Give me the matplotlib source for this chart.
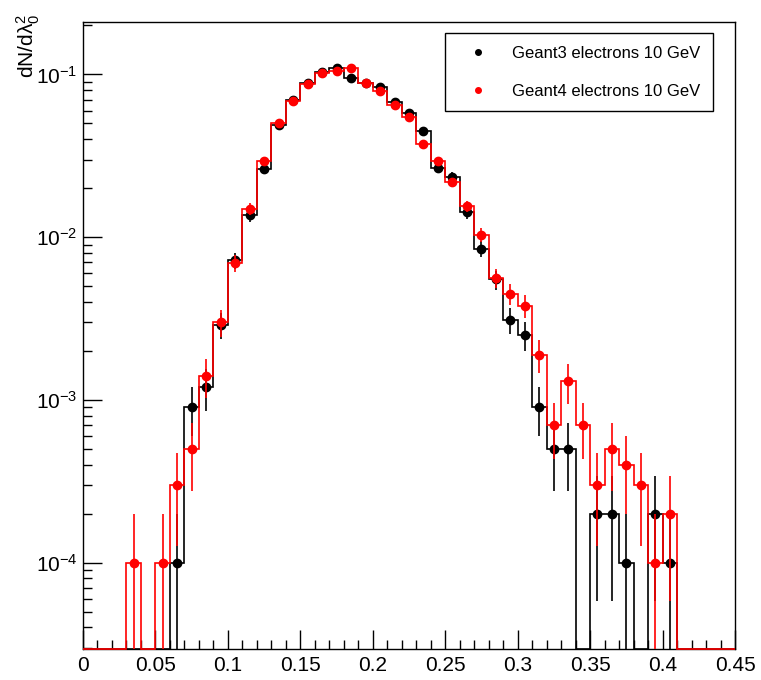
import numpy as np
import matplotlib
matplotlib.use("Agg")
import matplotlib.pyplot as plt
from matplotlib.lines import Line2D
from matplotlib.ticker import MultipleLocator, LogLocator, LogFormatterSciNotation, NullFormatter, FuncFormatter

plt.rcParams['font.family'] = ['Liberation Sans', 'DejaVu Sans']
plt.rcParams['mathtext.fontset'] = 'custom'
plt.rcParams['mathtext.rm'] = 'Liberation Sans'
plt.rcParams['mathtext.it'] = 'Liberation Sans:italic'
plt.rcParams['mathtext.bf'] = 'Liberation Sans:bold'

# histogram normalised to 10000 entries, bins of 0.01 from 0 to 0.45
N_EVENTS = 10000
bin_edges = np.round(np.arange(0, 0.45 + 1e-9, 0.01), 3)

geant3_counts = [0, 0, 0, 0, 0, 0, 1, 9, 12, 29,
                 72, 136, 262, 488, 700, 880, 1040, 1095, 955, 890,
                 840, 680, 582, 450, 268, 236, 142, 85, 55, 31,
                 25, 9, 5, 5, 0, 2, 2, 1, 0, 2,
                 1, 0, 0, 0, 0]
geant4_counts = [0, 0, 0, 1, 0, 1, 3, 5, 14, 30,
                 69, 149, 292, 500, 690, 875, 1025, 1050, 1100, 885,
                 790, 652, 548, 372, 292, 217, 155, 103, 56, 45,
                 38, 19, 7, 13, 7, 3, 5, 4, 3, 1,
                 2, 0, 0, 0, 0]
labels = ["Geant3 electrons 10 GeV", "Geant4 electrons 10 GeV"]
colors = ["black", "red"]

YMIN, YMAX = 2.95e-5, 0.21


def draw_hist(ax, counts, color, z):
    counts = np.asarray(counts, dtype=float)
    vals = counts / N_EVENTS
    errs = np.sqrt(counts) / N_EVENTS
    centers = 0.5 * (bin_edges[:-1] + bin_edges[1:])
    ax.stairs(np.clip(vals, YMIN, None), bin_edges, color=color, lw=1.2,
              baseline=None, clip_on=False, zorder=z)
    ok = counts > 0
    lo = np.maximum(vals - errs, YMIN * 0.1)
    ax.vlines(centers[ok], lo[ok], (vals + errs)[ok], color=color, lw=1.2, zorder=z)
    ax.plot(centers[ok], vals[ok], 'o', color=color, ms=6, mec=color, zorder=z + 0.5)


fig = plt.figure(figsize=(7.61, 6.80), dpi=100)
ax = fig.add_axes([83 / 761, 31 / 680, (735 - 83) / 761, (649 - 22) / 680])

draw_hist(ax, geant3_counts, colors[0], 3)
draw_hist(ax, geant4_counts, colors[1], 4)

ax.set_xlim(0, 0.45)
ax.set_yscale('log')
ax.set_ylim(YMIN, YMAX)

ax.xaxis.set_major_locator(MultipleLocator(0.05))
ax.xaxis.set_minor_locator(MultipleLocator(0.01))
ax.xaxis.set_major_formatter(FuncFormatter(lambda v, p: "%g" % round(v, 3)))
ax.yaxis.set_major_locator(LogLocator(base=10))
ax.yaxis.set_minor_locator(LogLocator(base=10, subs=np.arange(2, 10)))
ax.yaxis.set_major_formatter(LogFormatterSciNotation())
ax.yaxis.set_minor_formatter(NullFormatter())

ax.tick_params(which='both', direction='in', top=False, right=False, width=1)
ax.tick_params(which='major', length=14, labelsize=15)
ax.tick_params(axis='x', which='major', pad=5)
ax.tick_params(axis='y', which='major', pad=4)
ax.tick_params(which='minor', length=6.5)
for s in ax.spines.values():
    s.set_linewidth(1.0)

fig.text(28 / 761, 1 - 14 / 680, r"dN/d$\mathregular{\lambda_{0}^{2}}$", rotation=90,
         ha='center', va='top', fontsize=15)

handles = [Line2D([], [], ls='none', marker='o', color=c, ms=4) for c in colors]
leg = ax.legend(handles, labels, loc='upper left',
                bbox_to_anchor=(445 / 761, 1 - 33 / 680), bbox_transform=fig.transFigure,
                fontsize=12, frameon=True, fancybox=False, edgecolor='black', framealpha=1,
                borderpad=0.75, labelspacing=1.4, handlelength=2.4, handletextpad=0.9,
                borderaxespad=0)
leg.get_frame().set_linewidth(1.0)

fig.savefig("out.png", dpi=100)
